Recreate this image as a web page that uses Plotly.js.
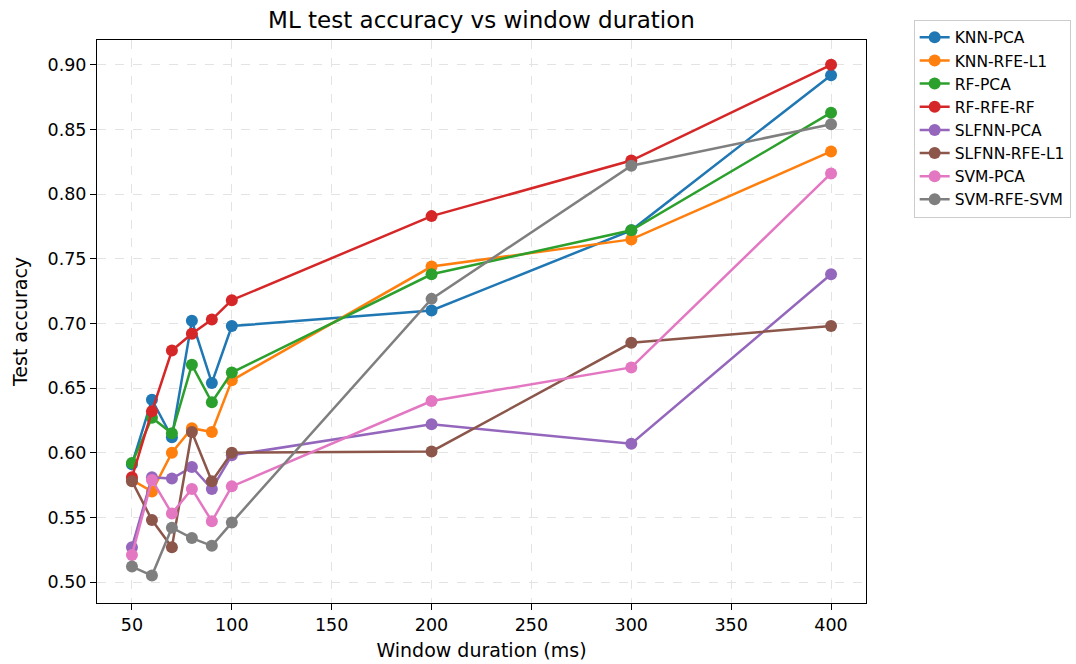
<!DOCTYPE html>
<html><head><meta charset="utf-8">
<script src="https://cdn.plot.ly/plotly-3.0.1.min.js"></script>
<style>body{margin:0;padding:0;background:#fff}#chart{width:1076px;height:664px}</style>
</head><body><div id="chart"></div>
<script>
const windows = [50, 60, 70, 80, 90, 100, 200, 300, 400];
const seriesNames = ["KNN-PCA","KNN-RFE-L1","RF-PCA","RF-RFE-RF","SLFNN-PCA","SLFNN-RFE-L1","SVM-PCA","SVM-RFE-SVM"];
const knnPca     = [0.591, 0.641, 0.612, 0.702, 0.654, 0.698, 0.710, 0.772, 0.892];
const knnRfeL1   = [0.579, 0.570, 0.600, 0.619, 0.616, 0.656, 0.744, 0.765, 0.833];
const rfPca      = [0.592, 0.627, 0.615, 0.668, 0.639, 0.662, 0.738, 0.772, 0.863];
const rfRfeRf    = [0.581, 0.632, 0.679, 0.692, 0.703, 0.718, 0.783, 0.826, 0.900];
const slfnnPca   = [0.527, 0.581, 0.580, 0.589, 0.572, 0.598, 0.622, 0.607, 0.738];
const slfnnRfeL1 = [0.578, 0.548, 0.527, 0.616, 0.578, 0.600, 0.601, 0.685, 0.698];
const svmPca     = [0.521, 0.579, 0.553, 0.572, 0.547, 0.574, 0.640, 0.666, 0.816];
const svmRfeSvm  = [0.512, 0.505, 0.542, 0.534, 0.528, 0.546, 0.719, 0.822, 0.854];
const xTicks = [50, 100, 150, 200, 250, 300, 350, 400];
const yTicks = [0.50, 0.55, 0.60, 0.65, 0.70, 0.75, 0.80, 0.85, 0.90];

const allValues = [knnPca, knnRfeL1, rfPca, rfRfeRf, slfnnPca, slfnnRfeL1, svmPca, svmRfeSvm];
const colors = ["#1f77b4","#ff7f0e","#2ca02c","#d62728","#9467bd","#8c564b","#e377c2","#7f7f7f"];

const traces = allValues.map((vals, i) => ({
  x: windows, y: vals, name: seriesNames[i], type: "scatter", mode: "lines+markers",
  line: {color: colors[i], width: 2.5},
  marker: {color: colors[i], size: 12}
}));

const font = "DejaVu Sans, sans-serif";
const layout = {
  width: 1076, height: 664,
  margin: {l: 97, r: 210, t: 40, b: 61, autoexpand: false},
  paper_bgcolor: "#fff", plot_bgcolor: "#fff",
  font: {family: font, size: 17.5, color: "#000"},
  title: {text: "ML test accuracy vs window duration", font: {family: font, size: 23, color: "#000"}, x: 0.5, xanchor: "center", xref: "paper", y: 0.97, yanchor: "middle"},
  xaxis: {
    title: {text: "Window duration (ms)", font: {family: font, size: 19}, standoff: 9},
    range: [32.5, 417.5], tickvals: xTicks, ticktext: xTicks.map(String),
    showline: true, linecolor: "#000", linewidth: 1, mirror: true,
    ticks: "outside", ticklen: 6, tickcolor: "#000",
    showgrid: true, gridcolor: "#e3e3e3", griddash: "dash", gridwidth: 1,
    zeroline: false, tickfont: {size: 17.5}
  },
  yaxis: {
    title: {text: "Test accuracy", font: {family: font, size: 19}, standoff: 14},
    range: [0.4838, 0.9192], tickvals: yTicks, ticktext: yTicks.map(v => v.toFixed(2)),
    showline: true, linecolor: "#000", linewidth: 1, mirror: true,
    ticks: "outside", ticklen: 6, tickcolor: "#000",
    showgrid: true, gridcolor: "#e3e3e3", griddash: "dash", gridwidth: 1,
    zeroline: false, tickfont: {size: 17.5}
  },
  legend: {
    x: 1.062, y: 1.036, xanchor: "left", yanchor: "top",
    bgcolor: "#fff", bordercolor: "#cccccc", borderwidth: 1,
    font: {family: font, size: 15.5}, tracegroupgap: 0
  },
  showlegend: true
};
Plotly.newPlot("chart", traces, layout, {displayModeBar: false, staticPlot: true});
</script>
</body></html>
